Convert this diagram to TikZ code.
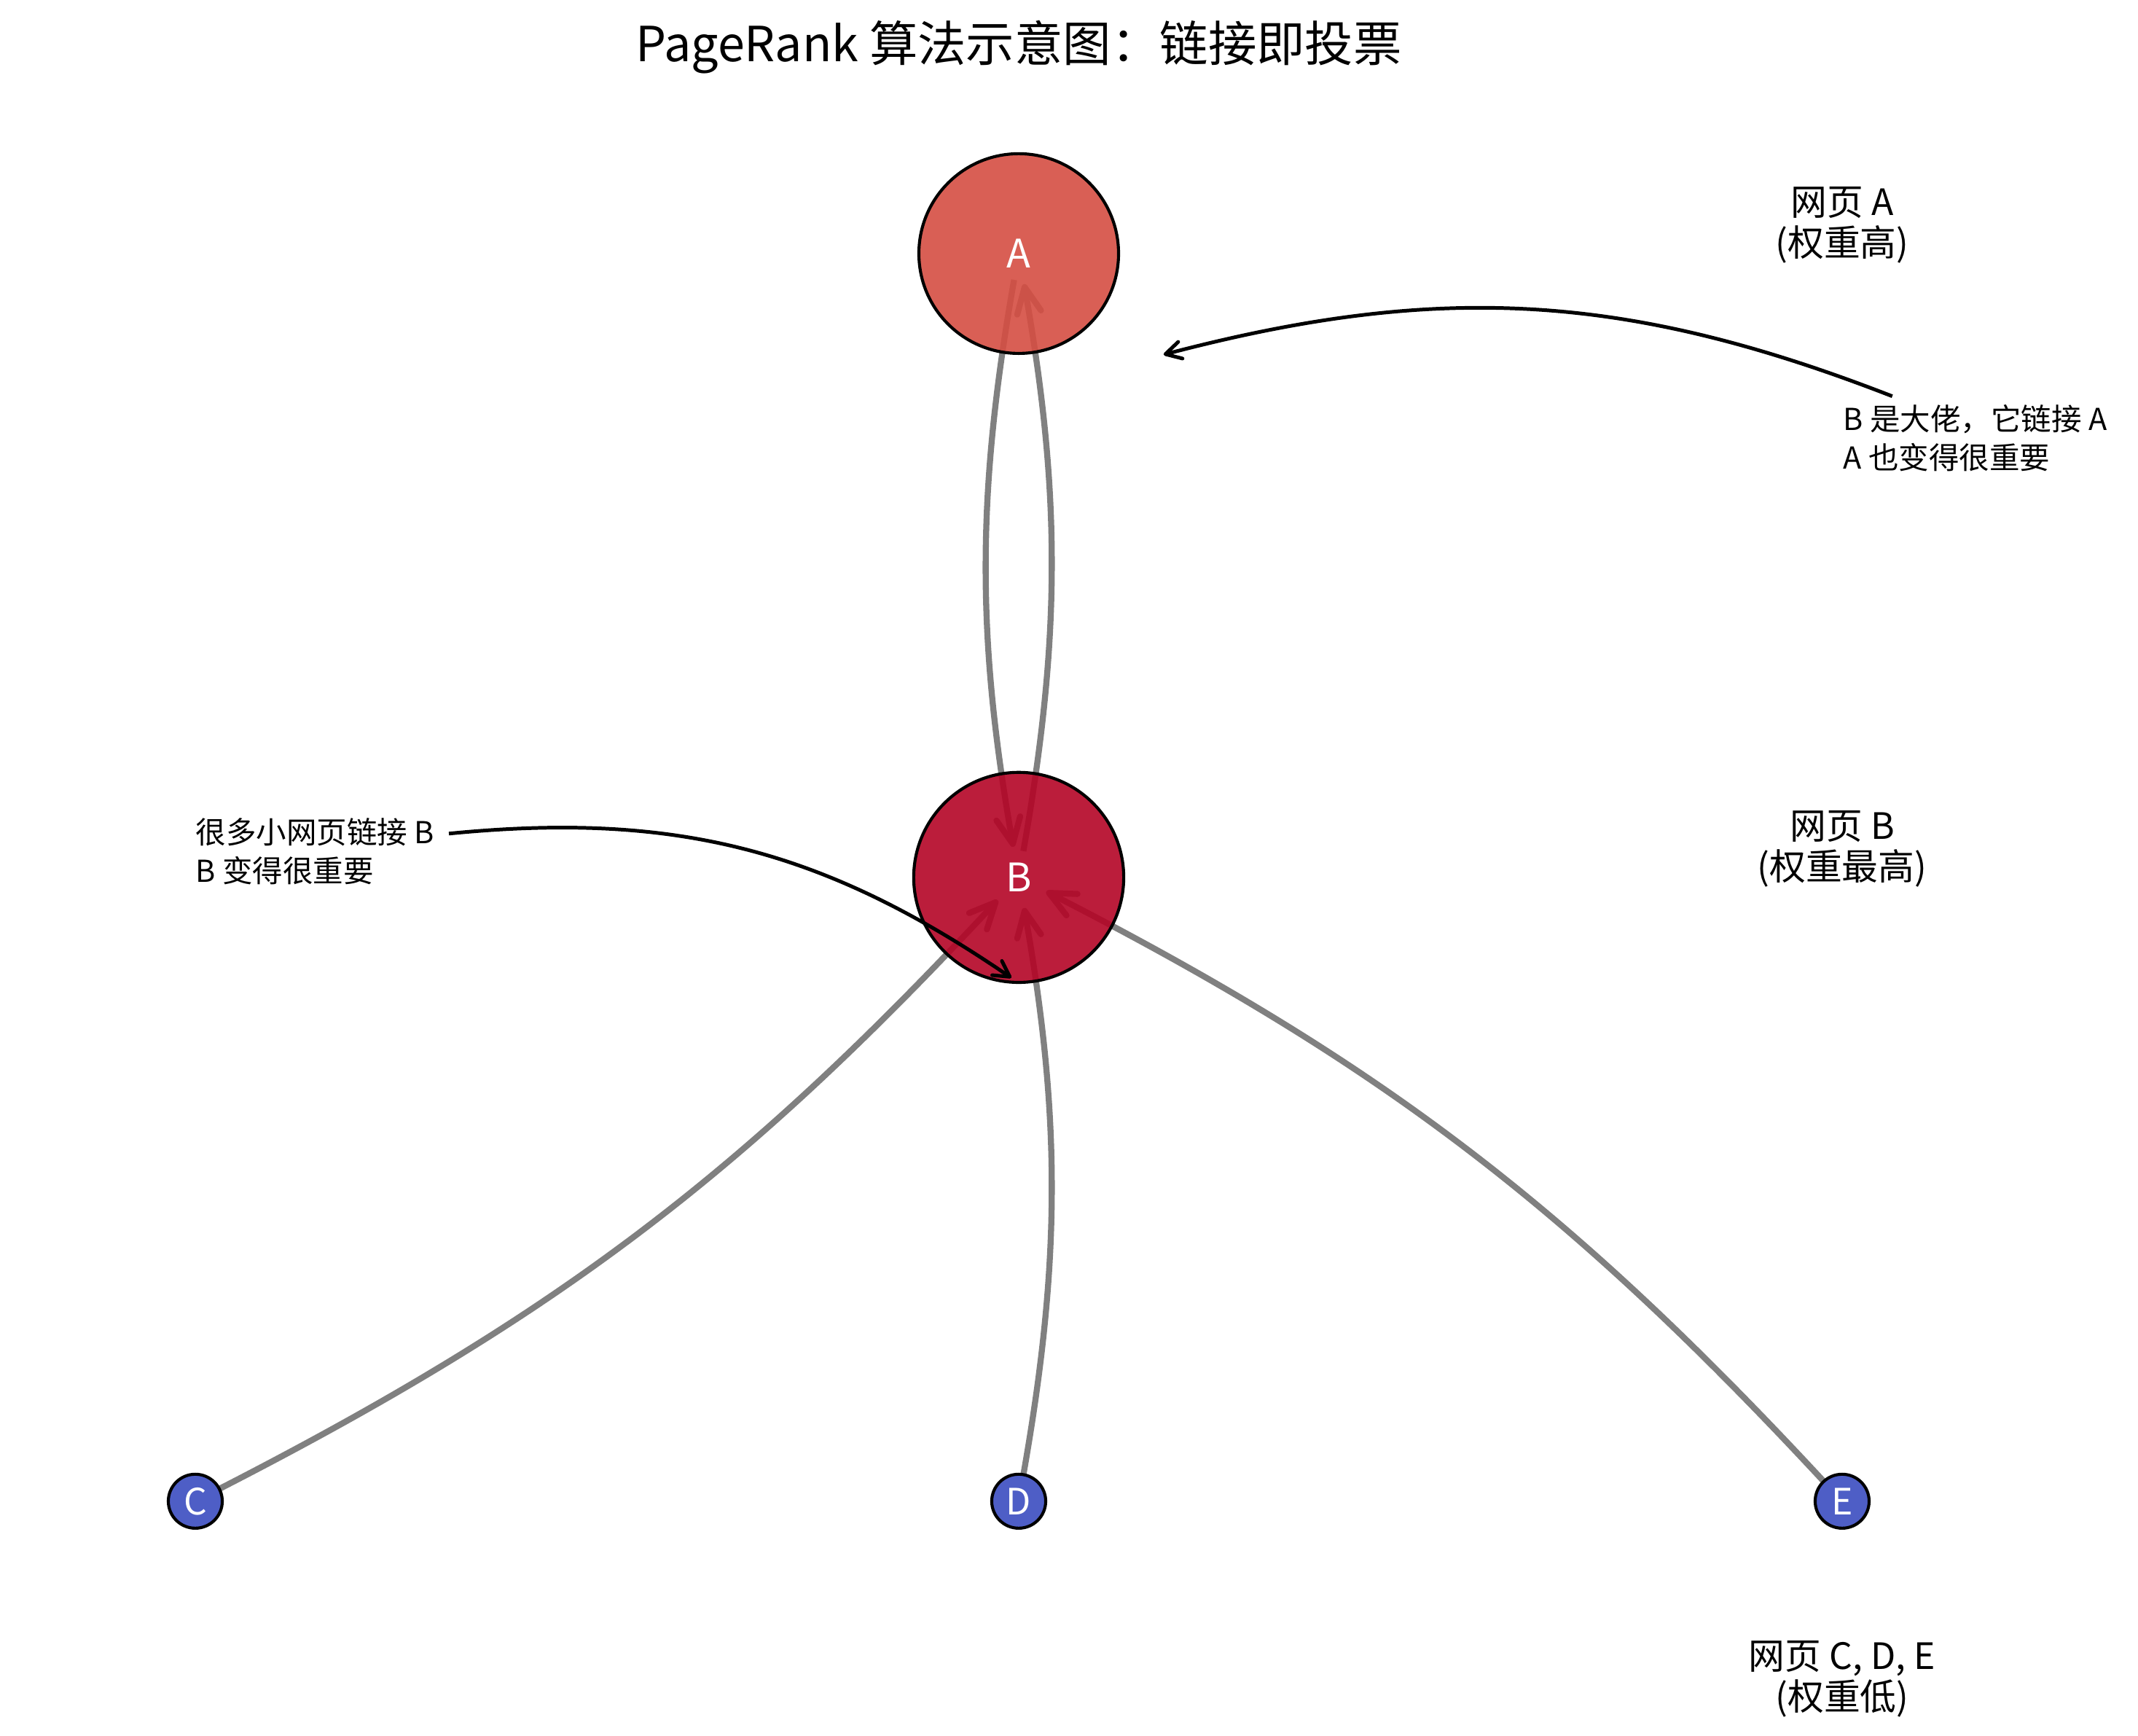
\documentclass[tikz,border=0pt]{standalone}
\usepackage{fontspec}
\setmainfont{Noto Sans CJK SC}
\usepackage{tikz}
\usetikzlibrary{arrows.meta,backgrounds}
\usepackage{xcolor}
\definecolor{prHigh}{RGB}{213,78,66}
\definecolor{prTop}{RGB}{180,4,38}
\definecolor{prLow}{RGB}{59,76,192}
\definecolor{prEdge}{RGB}{128,128,128}
\tikzset{
    site/.style={
        circle,draw=black,line width=1pt,fill=#1,fill opacity=0.9,
        text opacity=1,text=white,inner sep=0pt
    },
    site/.default=prLow,
    vote/.style={
        -{Straight Barb[length=3mm,width=2.8mm,round]},line width=2pt,
        draw=prEdge,shorten <=0.31cm,shorten >=0.36cm,bend right=10
    },
    remark/.style={
        -{Straight Barb[length=1.8mm,width=2mm,round]},line width=1.2pt,draw=black
    },
    tag/.style={align=center,font=\fontsize{12}{13.5}\selectfont},
    hint/.style={align=left,anchor=west,inner sep=0pt,font=\fontsize{10}{12.7}\selectfont}
}

\begin{document}
\begin{tikzpicture}[x=9.567cm,y=7.247cm]
\useasboundingbox (-1.2372,-0.3762) rectangle (1.3593,2.4065);

\node[font=\fontsize{16}{18}\selectfont] (title) at (0,2.331)
{PageRank 算法示意图：链接即投票};

\node[site=prHigh,minimum size=2.32cm,font=\fontsize{13}{14}\selectfont]
(A) at (0,2) {A};
\node[site=prTop,minimum size=2.44cm,font=\fontsize{13}{14}\selectfont]
(B) at (0,1) {B};
\node[site,minimum size=0.627cm,font=\fontsize{12}{13}\selectfont] (C) at (-1,0) {C};
\node[site,minimum size=0.627cm,font=\fontsize{12}{13}\selectfont] (D) at (0,0) {D};
\node[site,minimum size=0.627cm,font=\fontsize{12}{13}\selectfont] (E) at (1,0) {E};

\begin{scope}[on background layer]
\draw[vote] (A.center) to (B.center);
\draw[vote] (B.center) to (A.center);
\draw[vote] (C.center) to (B.center);
\draw[vote] (D.center) to (B.center);
\draw[vote] (E.center) to (B.center);
\end{scope}

\node[tag] (tagA) at (1,2.046) {网页 A\\(权重高)};
\node[tag] (tagB) at (1,1.046) {网页 B\\(权重最高)};
\node[tag] (tagL) at (1,-0.285) {网页 C, D, E\\(权重低)};

\node[hint] (hintA) at (1.0009,1.704) {B 是大佬，它链接 A\\A 也变得很重要};
\node[hint] (hintB) at (-1,1.042) {很多小网页链接 B\\B 变得很重要};

\coordinate (aimA) at (0.176,1.838);
\coordinate (aimB) at (-0.009,0.839);

\draw[remark] ([shift={(0.06,0.013)}]hintA.north west) to[bend right=18] (aimA);
\draw[remark] ([shift={(0.017,-0.026)}]hintB.north east) to[bend left=20] (aimB);

\end{tikzpicture}
\end{document}
